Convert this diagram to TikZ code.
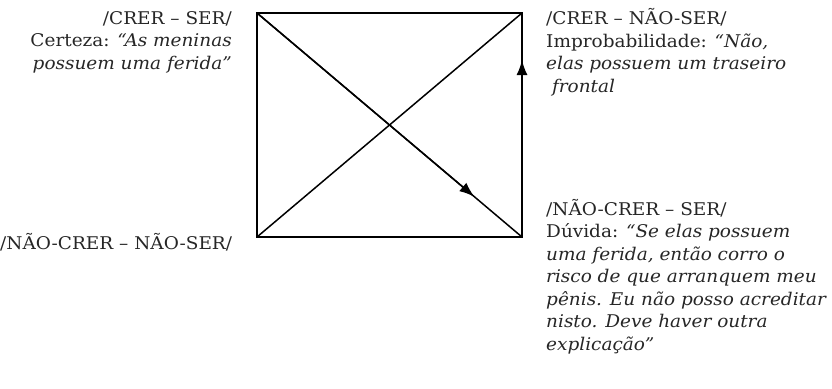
\documentclass[tikz,border=0pt]{standalone}
\usepackage{fontspec}
\setmainfont[FakeStretch=1.055]{DejaVu Serif}
\usetikzlibrary{arrows.meta,calc}
\begin{document}
\begin{tikzpicture}[x=1pt,y=-1pt,
  lbl/.style={inner sep=0pt,font=\fontsize{17.5}{22.5}\selectfont,text=black!85},
  edge/.style={line width=1.5pt},
  tip/.style={-{Latex[length=15pt,width=11pt]}}]
\useasboundingbox (0,0) rectangle (832,388);
\coordinate (tl) at (257,13);
\coordinate (tr) at (522,13);
\coordinate (bl) at (257,237);
\coordinate (br) at (522,237);
\draw[edge] (tl) -- (tr) -- (br) -- (bl) -- cycle;
\draw[edge] (tl) -- (br);
\draw[edge] (bl) -- (tr);
\draw[edge,tip] (tl) -- ($(tl)!0.82!(br)$);
\draw[edge,tip] (br) -- ($(br)!0.79!(tr)$);
\node[lbl,anchor=base east,align=right] (cs) at (232,69)
  {/CRER – SER/\\Certeza: \textit{“As meninas}\\\textit{possuem uma ferida”}};
\node[lbl,anchor=base west,align=left] (cns) at (546,92)
  {/CRER – NÃO-SER/\\Improbabilidade: \textit{“Não,}\\\textit{elas possuem um traseiro}\\\textit{\ frontal}};
\node[lbl,anchor=base west,align=left] (ncs) at (546,350)
  {/NÃO-CRER – SER/\\Dúvida: \textit{“Se elas possuem}\\\textit{uma ferida, então corro o}\\\textit{risco de que arranquem meu}\\\textit{pênis. Eu não posso acreditar}\\\textit{nisto. Deve haver outra}\\\textit{explicação”}};
\node[lbl,anchor=base west] (ncns) at (0,249.5) {/NÃO-CRER – NÃO-SER/};
\end{tikzpicture}
\end{document}
